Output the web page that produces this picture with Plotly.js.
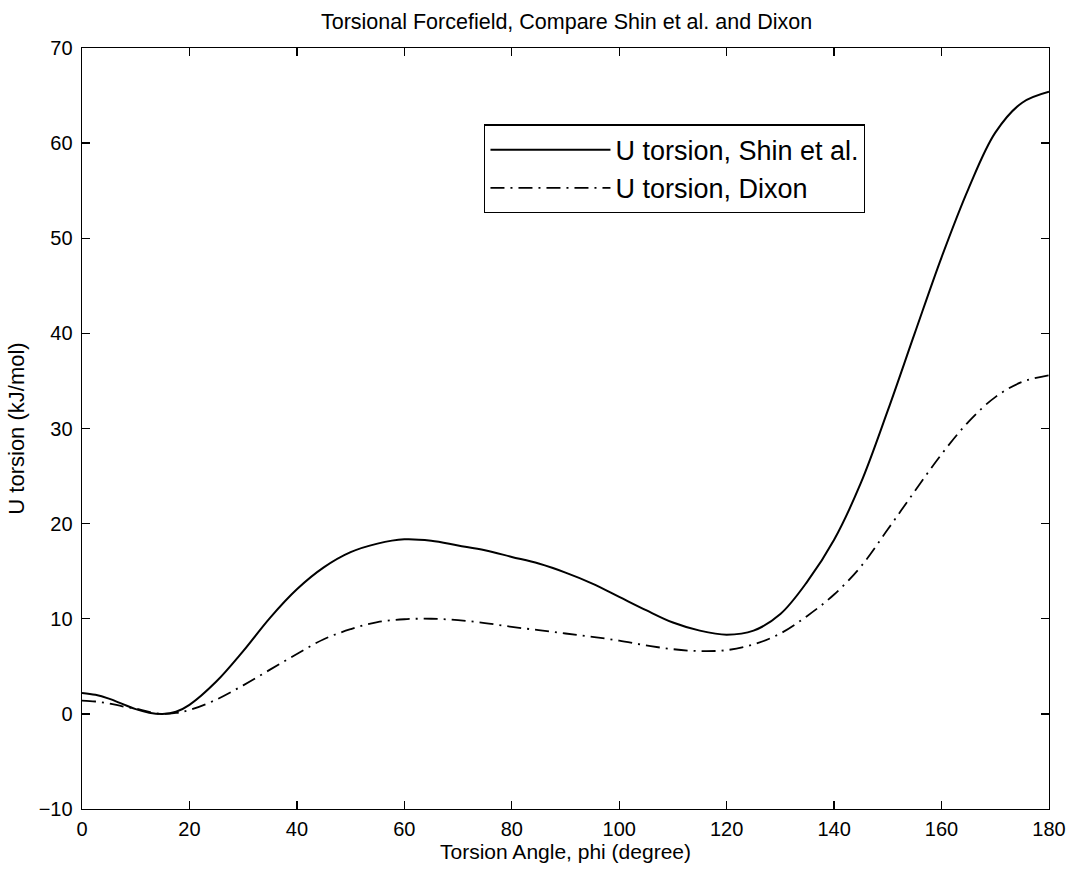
<!DOCTYPE html>
<html>
<head>
<meta charset="utf-8">
<script src="https://cdn.plot.ly/plotly-3.0.1.min.js"></script>
<style>html,body{margin:0;padding:0;background:#fff;}#chart{width:1073px;height:869px;}</style>
</head>
<body>
<div id="chart"></div>
<script>
const phi = [0,2.5,5,7.5,10,12.5,15,17.5,20,25,30,35,40,45,50,55,60,65,70,75,80,85,90,95,100,105,110,115,120,125,130,135,140,145,150,155,160,165,170,175,180];
const uShin = [2.2,2.0,1.6,1.05,0.5,0.13,0,0.22,0.95,3.4,6.6,10.1,13.1,15.4,17.0,17.9,18.35,18.2,17.7,17.2,16.5,15.8,14.85,13.7,12.3,10.9,9.6,8.75,8.33,8.75,10.5,13.9,18.3,24.3,31.9,40.0,48.0,55.2,61.1,64.25,65.4];
const uDixon = [1.4,1.3,1.1,0.8,0.55,0.2,0,0.1,0.4,1.5,3.0,4.65,6.3,7.85,8.9,9.65,9.95,10.0,9.85,9.55,9.15,8.8,8.45,8.1,7.7,7.2,6.8,6.6,6.7,7.3,8.45,10.3,12.55,15.5,19.4,23.4,27.3,30.7,33.3,34.9,35.6];
const xTicks = [0,20,40,60,80,100,120,140,160,180];
const yTicks = [-10,0,10,20,30,40,50,60,70];
const names = ['U torsion, Shin et al.', 'U torsion, Dixon'];

const FONT = 'Liberation Sans, Arial, Helvetica, sans-serif';

const traces = [
  {x: phi, y: uShin, name: names[0], mode: 'lines', type: 'scatter',
   line: {color: '#000', width: 2, shape: 'spline', smoothing: 1}},
  {x: phi, y: uDixon, name: names[1], mode: 'lines', type: 'scatter',
   line: {color: '#000', width: 1.8, shape: 'spline', smoothing: 1, dash: '14px,6px,2px,6px'}}
];

const axisCommon = {
  showline: true, linecolor: '#000', linewidth: 1.4, mirror: 'ticks',
  ticks: 'inside', ticklen: 8, tickwidth: 1.4, tickcolor: '#000',
  showgrid: false, zeroline: false,
  tickfont: {family: FONT, size: 20, color: '#000'}
};

const layout = {
  width: 1073, height: 869,
  paper_bgcolor: '#fff', plot_bgcolor: '#fff',
  margin: {l: 82, r: 24, t: 48, b: 60},
  showlegend: true,
  title: {text: 'Torsional Forcefield, Compare Shin et al. and Dixon',
          font: {family: FONT, size: 21.5, color: '#000'},
          x: 0.528, xanchor: 'center', y: 0.975, yanchor: 'middle', yref: 'container'},
  xaxis: Object.assign({}, axisCommon, {
    range: [0, 180], tickvals: xTicks, ticktext: xTicks.map(String),
    ticklabelstandoff: 2,
    title: {text: 'Torsion Angle, phi (degree)', font: {family: FONT, size: 21, color: '#000'}, standoff: 5}
  }),
  yaxis: Object.assign({}, axisCommon, {
    range: [-10, 70], tickvals: yTicks, ticktext: yTicks.map(v => v < 0 ? '\u2212' + Math.abs(v) : String(v)),
    ticklabelstandoff: 4,
    title: {text: 'U torsion (kJ/mol)', font: {family: FONT, size: 22, color: '#000'}, standoff: 8}
  }),
  legend: {
    x: 0.416, y: 0.8995, xanchor: 'left', yanchor: 'top',
    bordercolor: '#000', borderwidth: 1.2, bgcolor: '#fff',
    font: {family: FONT, size: 27, color: '#000'},
    itemwidth: 120, tracegroupgap: 0
  }
};

Plotly.newPlot('chart', traces, layout, {displayModeBar: false, staticPlot: true});
</script>
</body>
</html>
